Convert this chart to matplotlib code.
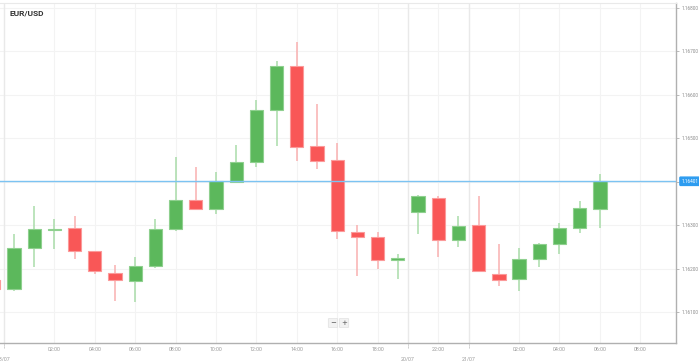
import matplotlib
matplotlib.use("Agg")
import matplotlib.pyplot as plt
from matplotlib.patches import FancyBboxPatch
import numpy as np

plt.rcParams['font.family'] = ['Roboto', 'DejaVu Sans']

# ---- data (hourly EUR/USD candles) ----
opens  = [1.16174, 1.16153, 1.16247, 1.16289, 1.16293, 1.16240, 1.16190, 1.16171, 1.16206, 1.16291,
          1.16357, 1.16337, 1.16400, 1.16445, 1.16564, 1.16666, 1.16482, 1.16450, 1.16285, 1.16272,
          1.16219, 1.16330, 1.16362, 1.16265, 1.16300, 1.16188, 1.16175, 1.16221, 1.16256, 1.16294,
          1.16337]
highs  = [1.16183, 1.16280, 1.16344, 1.16314, 1.16321, 1.16240, 1.16208, 1.16227, 1.16314, 1.16457,
          1.16435, 1.16423, 1.16485, 1.16587, 1.16678, 1.16721, 1.16579, 1.16488, 1.16300, 1.16285,
          1.16234, 1.16370, 1.16366, 1.16321, 1.16366, 1.16256, 1.16247, 1.16260, 1.16304, 1.16356,
          1.16418]
lows   = [1.16146, 1.16148, 1.16204, 1.16245, 1.16222, 1.16188, 1.16126, 1.16124, 1.16202, 1.16287,
          1.16335, 1.16326, 1.16400, 1.16435, 1.16482, 1.16448, 1.16429, 1.16267, 1.16183, 1.16198,
          1.16175, 1.16279, 1.16227, 1.16250, 1.16194, 1.16160, 1.16148, 1.16204, 1.16234, 1.16281,
          1.16294]
closes = [1.16153, 1.16247, 1.16291, 1.16292, 1.16240, 1.16194, 1.16174, 1.16206, 1.16291, 1.16358,
          1.16337, 1.16402, 1.16446, 1.16565, 1.16666, 1.16481, 1.16448, 1.16287, 1.16272, 1.16220,
          1.16224, 1.16368, 1.16265, 1.16298, 1.16194, 1.16174, 1.16222, 1.16256, 1.16294, 1.16339,
          1.16401]
current_price = 1.16401

hour_pos    = [2, 4, 6, 8, 10, 12, 14, 16, 18, 21, 25, 27, 29, 31]
hour_labels = ["02:00", "04:00", "06:00", "08:00", "10:00", "12:00", "14:00", "16:00",
               "18:00", "22:00", "02:00", "04:00", "06:00", "08:00"]
date_pos    = [-0.5, 19.5, 22.5]
date_labels = ["18/07", "20/07", "21/07"]
y_ticks     = [1.161, 1.162, 1.163, 1.164, 1.165, 1.166, 1.167, 1.168]

# ---- figure ----
W, H = 699, 361
fig = plt.figure(figsize=(W / 100, H / 100), dpi=100)
ax = fig.add_axes([0, 1 - 343 / H, 676 / W, (343 - 3) / H])

x = np.arange(len(opens)) - 1
o = np.array(opens); c = np.array(closes); h = np.array(highs); l = np.array(lows)
up = c >= o

green, green_edge, green_wick = "#5cb85c", "#8fd08f", "#a9dca9"
red, red_edge, red_wick = "#f95757", "#fb9a9a", "#f9b0b0"

ax.vlines(x[up], l[up], h[up], color=green_wick, linewidth=1.1, zorder=2)
ax.vlines(x[~up], l[~up], h[~up], color=red_wick, linewidth=1.1, zorder=2)

bottoms = np.minimum(o, c)
heights = np.maximum(np.abs(c - o), 0.00003)
ax.bar(x[up], heights[up], bottom=bottoms[up], width=0.66, color=green,
       edgecolor=green_edge, linewidth=0.8, zorder=3)
ax.bar(x[~up], heights[~up], bottom=bottoms[~up], width=0.66, color=red,
       edgecolor=red_edge, linewidth=0.8, zorder=3)

ax.set_xlim(-0.693, 32.77)
ax.set_ylim(1.160286, 1.168115)

# grid
for yt in y_ticks:
    ax.axhline(yt, color="#f3f3f3", linewidth=0.8, zorder=0)
for xp in hour_pos:
    ax.axvline(xp, color="#f3f3f3", linewidth=0.8, zorder=0)
for xp in date_pos:
    ax.axvline(xp, color="#e9e9e9", linewidth=1.0, zorder=0)

# current price line
ax.axhline(current_price, color="#7cc3f2", linewidth=1.0, zorder=4)

# spines
ax.spines["left"].set_visible(False)
ax.spines["top"].set_color("#e9e9e9")
ax.spines["top"].set_linewidth(0.8)
ax.spines["right"].set_color("#b0b0b0")
ax.spines["bottom"].set_color("#b0b0b0")
ax.spines["right"].set_linewidth(1.0)
ax.spines["bottom"].set_linewidth(1.0)

# y axis on right
ax.yaxis.tick_right()
ax.set_yticks(y_ticks)
ax.set_yticklabels(["%.5f" % v for v in y_ticks])
ax.tick_params(axis="y", length=2.5, width=0.6, color="#b0b0b0", labelsize=3.4,
               labelcolor="#8a8a8a", pad=1.5)

# x axis
ax.set_xticks(hour_pos)
ax.set_xticklabels(hour_labels)
ax.tick_params(axis="x", length=0, labelsize=3.8, labelcolor="#9a9a9a", pad=3)
ax.set_xticks(date_pos, minor=True)
ax.set_xticklabels(date_labels, minor=True)
ax.tick_params(axis="x", which="minor", length=0, labelsize=3.8, labelcolor="#9a9a9a", pad=10)
for xp in date_pos:
    ax.plot([xp, xp], [0, -0.015], transform=ax.get_xaxis_transform(), color="#b0b0b0",
            linewidth=0.7, linestyle=(0, (1, 1)), clip_on=False)

# current price label on the right
ax.annotate("%.5f" % current_price, xy=(1.0, current_price), xycoords=("axes fraction", "data"),
            xytext=(4, 0), textcoords="offset points", ha="left", va="center",
            fontsize=3.4, color="white", annotation_clip=False,
            bbox=dict(boxstyle="round,pad=0.35,rounding_size=0.15", fc="#2d9cf0", ec="#2d9cf0"))

# title
fig.text(9 / W, 1 - 13 / H, "EUR/USD", fontsize=6, fontweight="bold", color="#333333",
         ha="left", va="center")

# zoom buttons
for px, sym in [(333, "\u2212"), (344, "+")]:
    fig.patches.append(FancyBboxPatch((px / W - 4 / W, 1 - 327 / H), 8 / W, 8 / H,
                                      boxstyle="round,pad=0.001", transform=fig.transFigure,
                                      fc="#f2f2f2", ec="#e0e0e0", linewidth=0.5))
    fig.text(px / W, 1 - 323 / H, sym, fontsize=5, color="#555555", ha="center", va="center",
             family="DejaVu Sans")

fig.savefig("out.png", dpi=100)
